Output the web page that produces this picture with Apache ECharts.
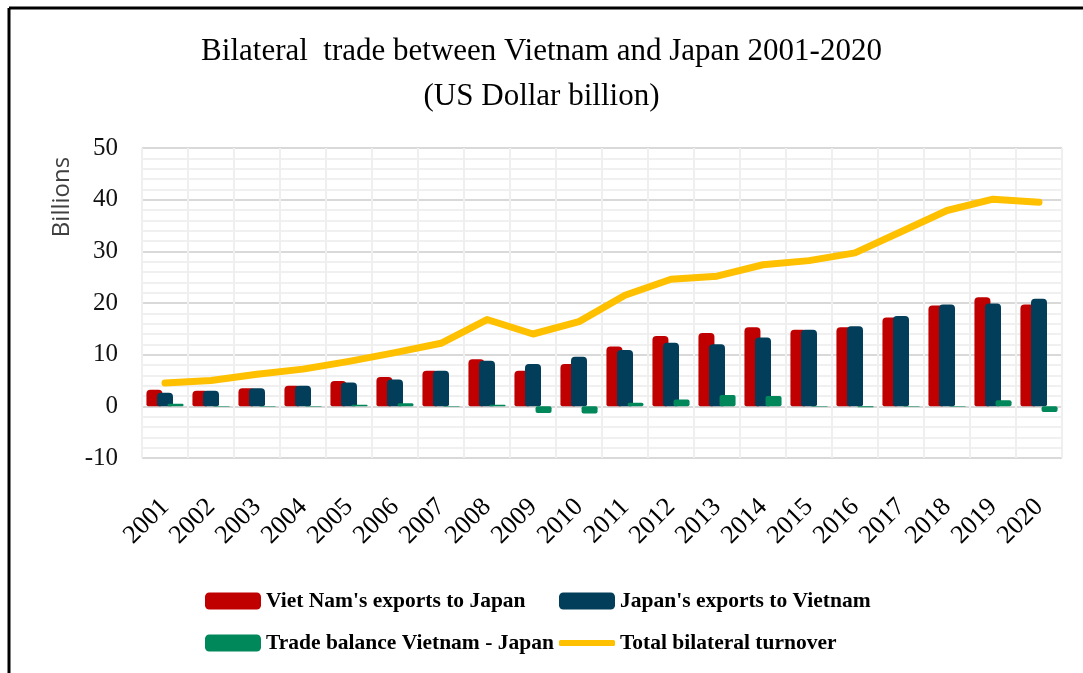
<!DOCTYPE html>
<html>
<head>
<meta charset="utf-8">
<script src="https://cdn.jsdelivr.net/npm/echarts@6/dist/echarts.min.js"></script>
<style>
html,body{margin:0;padding:0;background:#fff;}
#chart{width:1083px;height:673px;}
</style>
</head>
<body>
<div id="chart"></div>
<script>
const years = ['2001','2002','2003','2004','2005','2006','2007','2008','2009','2010','2011','2012','2013','2014','2015','2016','2017','2018','2019','2020'];
const vnExports = [3.2, 3.0, 3.5, 4.0, 4.9, 5.7, 6.9, 9.1, 6.9, 8.2, 11.6, 13.6, 14.2, 15.3, 14.8, 15.3, 17.2, 19.5, 21.1, 19.7];
const jpExports = [2.65, 3.0, 3.5, 4.0, 4.6, 5.2, 6.9, 8.8, 8.2, 9.6, 10.9, 12.3, 12.0, 13.3, 14.8, 15.5, 17.5, 19.7, 19.9, 20.8];
const tradeBalance = [0.5, -0.1, -0.1, -0.1, 0.3, 0.6, -0.1, 0.3, -1.3, -1.4, 0.7, 1.3, 2.2, 2.0, -0.1, -0.2, -0.1, -0.1, 1.2, -1.1];
const turnover = [4.5, 5.0, 6.2, 7.2, 8.7, 10.4, 12.2, 16.8, 14.0, 16.4, 21.5, 24.6, 25.2, 27.4, 28.2, 29.7, 33.8, 37.9, 40.1, 39.5];
const seriesNames = ["Viet Nam's exports to Japan", "Japan's exports to Vietnam", "Trade balance Vietnam - Japan", "Total bilateral turnover"];

const chart = echarts.init(document.getElementById('chart'), null, {renderer: 'canvas'});
const legendText = {fontFamily: 'Liberation Serif', fontWeight: 'bold', fontSize: 21.5, color: '#000'};
function legendAt(item, left, top, extra) {
  return Object.assign({
    data: [item], left: left, top: top, itemWidth: 56, itemHeight: 17,
    textStyle: legendText, selectedMode: false, padding: 0, itemGap: 2
  }, extra || {});
}
chart.setOption({
  animation: false,
  backgroundColor: '#fff',
  title: {
    text: 'Bilateral  trade between Vietnam and Japan 2001-2020\n(US Dollar billion)',
    left: 'center', top: 24,
    textStyle: {fontFamily: 'Liberation Serif', fontWeight: 'normal', fontSize: 31, color: '#000', lineHeight: 45}
  },
  graphic: [
    {type: 'line', shape: {x1: 9, y1: 8, x2: 1083, y2: 8}, style: {stroke: '#000', lineWidth: 3}},
    {type: 'line', shape: {x1: 9, y1: 8, x2: 9, y2: 673}, style: {stroke: '#000', lineWidth: 3}},
    {type: 'text', x: 62, y: 197, rotation: Math.PI / 2,
     style: {text: 'Billions', font: '24px "Open Sans"', fill: '#404040', textAlign: 'center', textVerticalAlign: 'middle'}}
  ],
  legend: [
    legendAt(seriesNames[0], 205, 590),
    legendAt(seriesNames[1], 559, 590),
    legendAt(seriesNames[2], 205, 632),
    legendAt({name: seriesNames[3], icon: 'roundRect'}, 559, 632, {itemHeight: 6})
  ],
  grid: {left: 142, right: 21, top: 148, bottom: 215},
  xAxis: {
    type: 'category', data: years,
    axisLine: {show: false}, axisTick: {show: false},
    splitLine: {show: true, lineStyle: {color: '#EFEFEF', width: 2}},
    axisLabel: {rotate: 45, margin: 45, fontFamily: 'Liberation Serif', fontSize: 26, color: '#000', interval: 0}
  },
  yAxis: {
    type: 'value', min: -10, max: 50, interval: 10,
    axisLine: {show: false}, axisTick: {show: false},
    axisLabel: {margin: 24, fontFamily: 'Liberation Serif', fontSize: 25, color: '#111'},
    splitLine: {show: true, lineStyle: {color: '#D9D9D9', width: 2}},
    minorTick: {show: false, splitNumber: 5},
    minorSplitLine: {show: true, lineStyle: {color: '#F0F0F0', width: 2}}
  },
  series: [
    {name: seriesNames[0], type: 'bar', data: vnExports, barWidth: 16, barGap: '-34%',
     itemStyle: {color: '#C00000', borderRadius: [4, 4, 2, 2]}},
    {name: seriesNames[1], type: 'bar', data: jpExports, barWidth: 16, barGap: '-34%',
     itemStyle: {color: '#023E5A', borderRadius: [4, 4, 2, 2]}},
    {name: seriesNames[2], type: 'bar', data: tradeBalance, barWidth: 16, barGap: '-34%',
     itemStyle: {color: '#00875A', borderRadius: 2}},
    {name: seriesNames[3], type: 'line', data: turnover, symbol: 'none', z: 5,
     lineStyle: {color: '#FFC000', width: 7, join: 'round', cap: 'round'}, itemStyle: {color: '#FFC000'}}
  ]
});
</script>
</body>
</html>
